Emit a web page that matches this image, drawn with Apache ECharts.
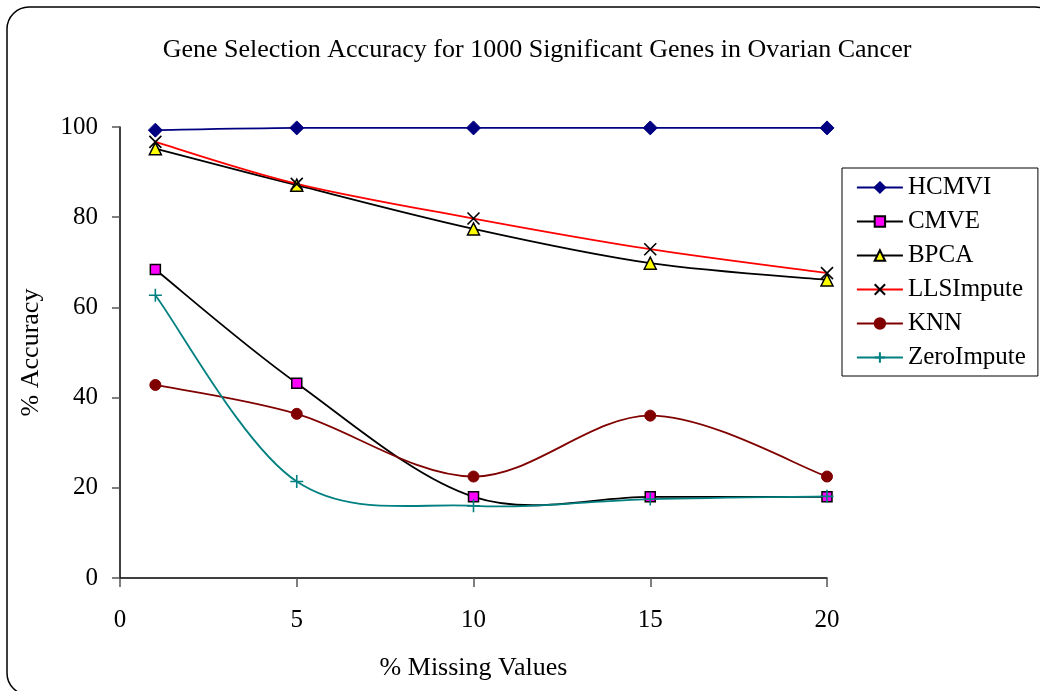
<!DOCTYPE html>
<html>
<head>
<meta charset="utf-8">
<script src="https://cdn.jsdelivr.net/npm/echarts@6/dist/echarts.min.js"></script>
<style>
  html, body { margin: 0; padding: 0; background: #fff; }
  #chart { width: 1040px; height: 691px; }
</style>
</head>
<body>
<div id="chart"></div>
<script>
// % missing values on the x axis
const missing = [1, 5, 10, 15, 20];

// % accuracy for each imputation method
const hcmvi      = [99.3, 99.8, 99.8, 99.8, 99.8];
const cmve       = [68.4, 43.2, 18.0, 18.0, 18.0];
const bpca       = [95.2, 87.1, 77.4, 69.8, 66.1];
const llsImpute  = [96.7, 87.4, 79.7, 72.9, 67.6];
const knn        = [42.8, 36.4, 22.5, 36.0, 22.5];
const zeroImpute = [62.7, 21.4, 16.0, 17.5, 18.1];

const seriesNames = ['HCMVI', 'CMVE', 'BPCA', 'LLSImpute', 'KNN', 'ZeroImpute'];
const lineColors  = ['#000080', '#000000', '#000000', '#ff0000', '#800000', '#008080'];

const FONT = '"Liberation Serif", "DejaVu Serif", serif';
const FS = 25;
const LINE_W = 1.8;

function pairs(vals) { return missing.map((m, i) => [m, vals[i]]); }

// Markers (and legend entry) for one method; its own line is hidden,
// the smoothed curve is drawn by the companion custom series.
function markerSeries(name, vals, symbol, size, itemStyle) {
  return {
    name: name,
    type: 'line',
    data: pairs(vals),
    symbol: symbol,
    symbolSize: size,
    showAllSymbol: true,
    lineStyle: { opacity: 0 },
    itemStyle: itemStyle,
    z: 3,
    emphasis: { disabled: true }
  };
}

// Cardinal-spline curve through the points, one cubic segment per data item,
// control points taken in pixel space from the neighbouring points.
function curveSeries(id, vals, color) {
  const data = pairs(vals);
  return {
    id: id,
    name: id,
    type: 'custom',
    data: data,
    z: 2,
    silent: true,
    renderItem: function (params, api) {
      const i = params.dataIndex;
      if (i >= data.length - 1) return null;
      const p = data.map(d => api.coord(d));
      const p0 = p[Math.max(i - 1, 0)];
      const p1 = p[i];
      const p2 = p[i + 1];
      const p3 = p[Math.min(i + 2, p.length - 1)];
      return {
        type: 'bezierCurve',
        shape: {
          x1: p1[0], y1: p1[1],
          x2: p2[0], y2: p2[1],
          cpx1: p1[0] + (p2[0] - p0[0]) / 6,
          cpy1: p1[1] + (p2[1] - p0[1]) / 6,
          cpx2: p2[0] - (p3[0] - p1[0]) / 6,
          cpy2: p2[1] - (p3[1] - p1[1]) / 6
        },
        style: { fill: 'none', stroke: color, lineWidth: LINE_W }
      };
    }
  };
}

const chart = echarts.init(document.getElementById('chart'), null, { renderer: 'canvas' });

chart.setOption({
  animation: false,
  backgroundColor: '#fff',
  textStyle: { fontFamily: FONT, color: '#000' },
  title: {
    text: 'Gene Selection Accuracy for 1000 Significant Genes in Ovarian Cancer',
    left: 532, top: 32, textAlign: 'center',
    textStyle: { fontFamily: FONT, fontSize: 26, fontWeight: 'normal', color: '#000' }
  },
  graphic: [{
    type: 'rect',
    shape: { x: 7, y: 7, width: 1050, height: 688, r: 22 },
    style: { fill: 'none', stroke: '#000', lineWidth: 1.5 },
    silent: true, z: -1
  }],
  grid: { left: 120, right: 213, top: 127, bottom: 113, containLabel: false },
  legend: {
    orient: 'vertical',
    left: 842, top: 168,
    padding: [7, 12, 6, 14],
    itemWidth: 46, itemHeight: 13,
    itemGap: 9,
    borderColor: '#000', borderWidth: 1,
    textStyle: { fontFamily: FONT, fontSize: FS, color: '#000' },
    data: seriesNames.map((n, i) => ({
      name: n,
      lineStyle: { color: lineColors[i], width: LINE_W, opacity: 1 }
    }))
  },
  xAxis: {
    type: 'value',
    min: 0, max: 20, interval: 5,
    name: '% Missing Values',
    nameLocation: 'middle', nameGap: 77,
    nameTextStyle: { fontFamily: FONT, fontSize: 26, color: '#000' },
    axisLine: { lineStyle: { color: '#000', width: 1.5 } },
    axisTick: { show: true, length: 9, lineStyle: { color: '#555', width: 1.5 } },
    axisLabel: { fontFamily: FONT, fontSize: FS, color: '#000', margin: 30 },
    splitLine: { show: false }
  },
  yAxis: {
    type: 'value',
    min: 0, max: 100, interval: 20,
    name: '% Accuracy',
    nameLocation: 'middle', nameGap: 76,
    nameTextStyle: { fontFamily: FONT, fontSize: 26, color: '#000' },
    axisLine: { show: true, lineStyle: { color: '#000', width: 1.5 } },
    axisTick: { show: true, length: 8, lineStyle: { color: '#555', width: 1.5 } },
    axisLabel: { fontFamily: FONT, fontSize: FS, color: '#000', margin: 22 },
    splitLine: { show: false }
  },
  series: [
    curveSeries('HCMVI-curve', hcmvi, lineColors[0]),
    curveSeries('CMVE-curve', cmve, lineColors[1]),
    curveSeries('BPCA-curve', bpca, lineColors[2]),
    curveSeries('LLSImpute-curve', llsImpute, lineColors[3]),
    curveSeries('KNN-curve', knn, lineColors[4]),
    curveSeries('ZeroImpute-curve', zeroImpute, lineColors[5]),
    markerSeries('HCMVI', hcmvi, 'diamond', 14,
      { color: '#000080', borderColor: '#000080', borderWidth: 1 }),
    markerSeries('CMVE', cmve, 'rect', 10,
      { color: '#ff00ff', borderColor: '#000', borderWidth: 1.5 }),
    markerSeries('BPCA', bpca, 'triangle', 12,
      { color: '#ffff00', borderColor: '#000', borderWidth: 1.5 }),
    markerSeries('LLSImpute', llsImpute, 'path://M0,0L10,10M10,0L0,10', 12,
      { color: '#000', borderColor: '#000', borderWidth: 1.6 }),
    markerSeries('KNN', knn, 'circle', 11,
      { color: '#800000', borderColor: '#800000', borderWidth: 1 }),
    markerSeries('ZeroImpute', zeroImpute, 'path://M5,0L5,10M0,5L10,5', 13,
      { color: '#008080', borderColor: '#008080', borderWidth: 1.6 })
  ]
});
</script>
</body>
</html>
